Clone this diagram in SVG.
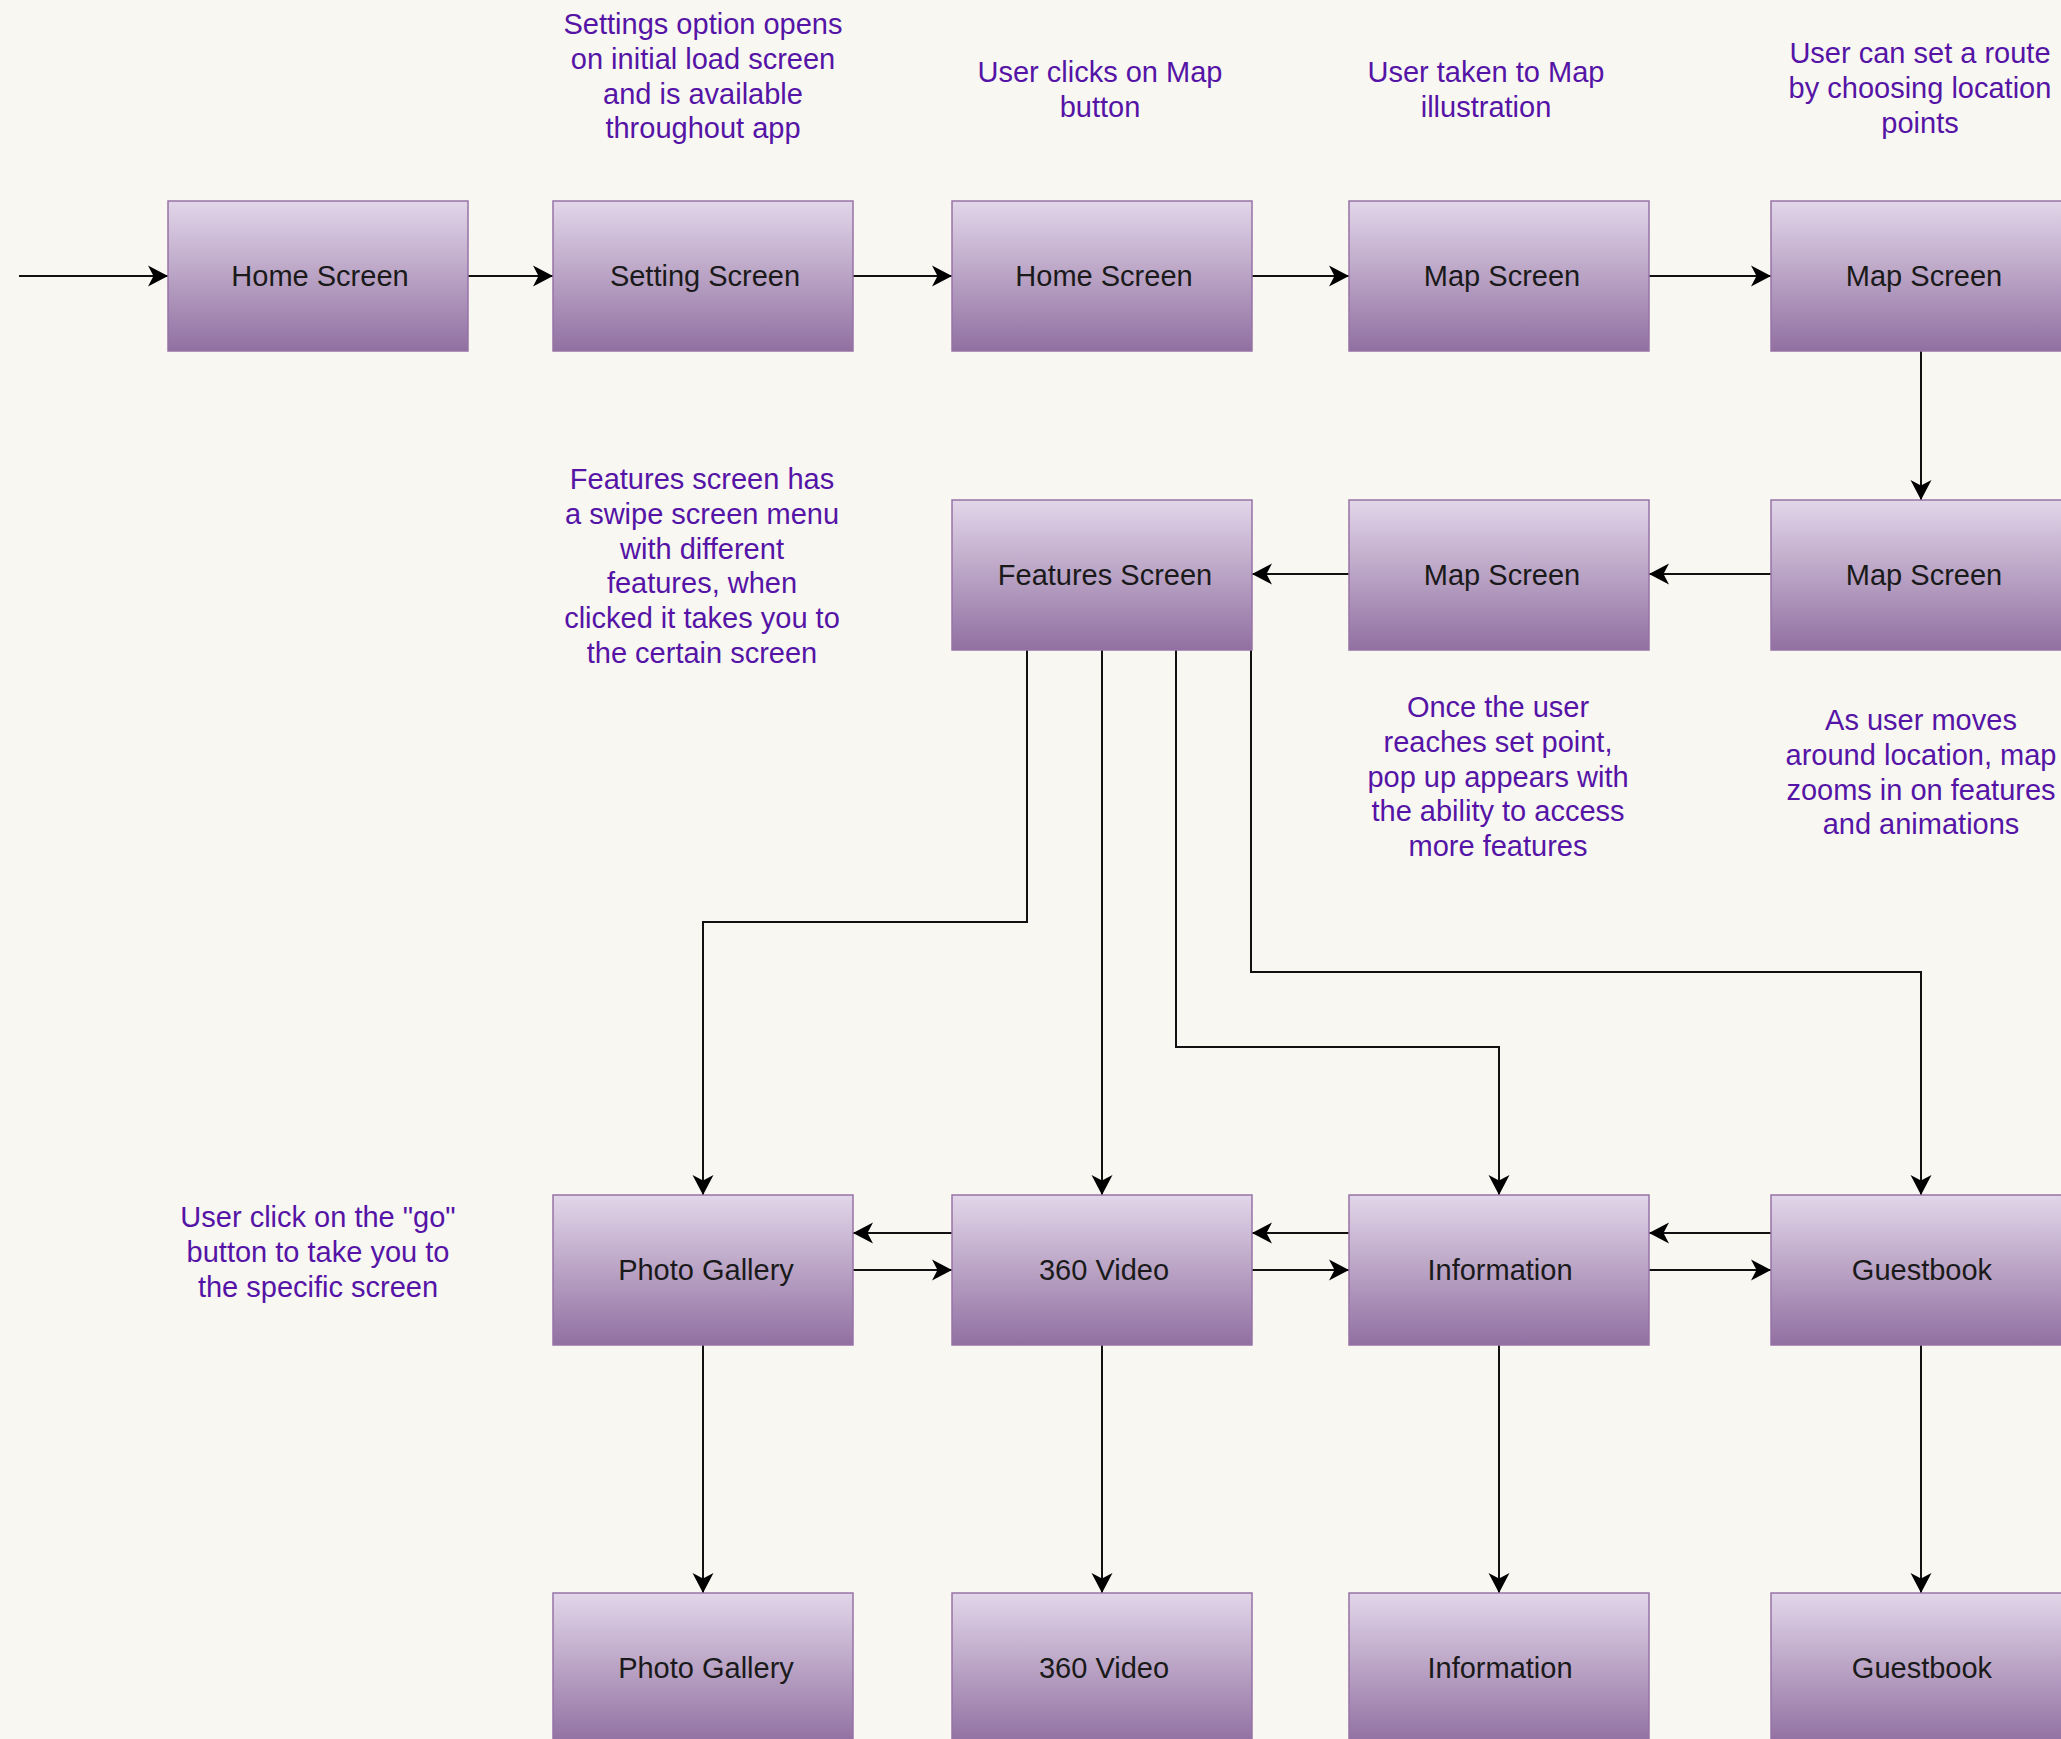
<svg xmlns="http://www.w3.org/2000/svg" width="2061" height="1739" viewBox="0 0 2061 1739">
<defs>
<linearGradient id="g" x1="0" y1="0" x2="0" y2="1">
<stop offset="0" stop-color="#e2d6e9"/>
<stop offset="1" stop-color="#9170a1"/>
</linearGradient>
<marker id="arr" markerUnits="userSpaceOnUse" markerWidth="24" markerHeight="24" viewBox="-22 -12 24 24" refX="0" refY="0" orient="auto">
<path d="M0,0 L-20,-10.5 L-14.5,0 L-20,10.5 Z" fill="#000"/>
</marker>
<style>
.box{fill:url(#g);stroke:#9673a6;stroke-width:1.5}
.lbl{font-family:"Liberation Sans",Arial,sans-serif;font-size:29px;fill:#1a1a1a;text-anchor:middle}
.note{font-family:"Liberation Sans",Arial,sans-serif;font-size:29px;fill:#5514a6;text-anchor:middle}
.c path{fill:none;stroke:#111;stroke-width:2;marker-end:url(#arr)}
</style>
</defs>
<rect width="2061" height="1739" fill="#f8f7f2"/>

<g id="notes">
<text class="note" x="703" y="34"><tspan x="703">Settings option opens</tspan><tspan x="703" dy="34.8">on initial load screen</tspan><tspan x="703" dy="34.8">and is available</tspan><tspan x="703" dy="34.8">throughout app</tspan></text>
<text class="note" x="1100" y="82"><tspan x="1100">User clicks on Map</tspan><tspan x="1100" dy="34.8">button</tspan></text>
<text class="note" x="1486" y="82"><tspan x="1486">User taken to Map</tspan><tspan x="1486" dy="34.8">illustration</tspan></text>
<text class="note" x="1920" y="63"><tspan x="1920">User can set a route</tspan><tspan x="1920" dy="34.8">by choosing location</tspan><tspan x="1920" dy="34.8">points</tspan></text>
<text class="note" x="702" y="489"><tspan x="702">Features screen has</tspan><tspan x="702" dy="34.8">a swipe screen menu</tspan><tspan x="702" dy="34.8">with different</tspan><tspan x="702" dy="34.8">features, when</tspan><tspan x="702" dy="34.8">clicked it takes you to</tspan><tspan x="702" dy="34.8">the certain screen</tspan></text>
<text class="note" x="1498" y="717"><tspan x="1498">Once the user</tspan><tspan x="1498" dy="34.8">reaches set point,</tspan><tspan x="1498" dy="34.8">pop up appears with</tspan><tspan x="1498" dy="34.8">the ability to access</tspan><tspan x="1498" dy="34.8">more features</tspan></text>
<text class="note" x="1921" y="730"><tspan x="1921">As user moves</tspan><tspan x="1921" dy="34.8">around location, map</tspan><tspan x="1921" dy="34.8">zooms in on features</tspan><tspan x="1921" dy="34.8">and animations</tspan></text>
<text class="note" x="318" y="1227"><tspan x="318">User click on the "go"</tspan><tspan x="318" dy="34.8">button to take you to</tspan><tspan x="318" dy="34.8">the specific screen</tspan></text>
</g>

<g class="c" id="connectors">
<path d="M19,276 H168"/>
<path d="M468,276 H553"/>
<path d="M853,276 H952"/>
<path d="M1252,276 H1349"/>
<path d="M1649,276 H1771"/>
<path d="M1921,351 V500"/>
<path d="M1771,574 H1649"/>
<path d="M1349,574 H1252"/>
<path d="M1027,650 V922 H703 V1195"/>
<path d="M1102,650 V1195"/>
<path d="M1176,650 V1047 H1499 V1195"/>
<path d="M1251,650 V972 H1921 V1195"/>
<path d="M952,1233 H853"/>
<path d="M853,1270 H952"/>
<path d="M1349,1233 H1252"/>
<path d="M1252,1270 H1349"/>
<path d="M1771,1233 H1649"/>
<path d="M1649,1270 H1771"/>
<path d="M703,1345 V1593"/>
<path d="M1102,1345 V1593"/>
<path d="M1499,1345 V1593"/>
<path d="M1921,1345 V1593"/>
</g>

<g id="home1"><rect class="box" x="168" y="201" width="300" height="150"/><text class="lbl" x="320" y="286">Home Screen</text></g>
<g id="setting"><rect class="box" x="553" y="201" width="300" height="150"/><text class="lbl" x="705" y="286">Setting Screen</text></g>
<g id="home2"><rect class="box" x="952" y="201" width="300" height="150"/><text class="lbl" x="1104" y="286">Home Screen</text></g>
<g id="map1"><rect class="box" x="1349" y="201" width="300" height="150"/><text class="lbl" x="1502" y="286">Map Screen</text></g>
<g id="map2"><rect class="box" x="1771" y="201" width="300" height="150"/><text class="lbl" x="1924" y="286">Map Screen</text></g>

<g id="features"><rect class="box" x="952" y="500" width="300" height="150"/><text class="lbl" x="1105" y="585">Features Screen</text></g>
<g id="map3"><rect class="box" x="1349" y="500" width="300" height="150"/><text class="lbl" x="1502" y="585">Map Screen</text></g>
<g id="map4"><rect class="box" x="1771" y="500" width="300" height="150"/><text class="lbl" x="1924" y="585">Map Screen</text></g>

<g id="photo1"><rect class="box" x="553" y="1195" width="300" height="150"/><text class="lbl" x="706" y="1280">Photo Gallery</text></g>
<g id="video1"><rect class="box" x="952" y="1195" width="300" height="150"/><text class="lbl" x="1104" y="1280">360 Video</text></g>
<g id="info1"><rect class="box" x="1349" y="1195" width="300" height="150"/><text class="lbl" x="1500" y="1280">Information</text></g>
<g id="guest1"><rect class="box" x="1771" y="1195" width="300" height="150"/><text class="lbl" x="1922" y="1280">Guestbook</text></g>

<g id="photo2"><rect class="box" x="553" y="1593" width="300" height="150"/><text class="lbl" x="706" y="1678">Photo Gallery</text></g>
<g id="video2"><rect class="box" x="952" y="1593" width="300" height="150"/><text class="lbl" x="1104" y="1678">360 Video</text></g>
<g id="info2"><rect class="box" x="1349" y="1593" width="300" height="150"/><text class="lbl" x="1500" y="1678">Information</text></g>
<g id="guest2"><rect class="box" x="1771" y="1593" width="300" height="150"/><text class="lbl" x="1922" y="1678">Guestbook</text></g>
</svg>
